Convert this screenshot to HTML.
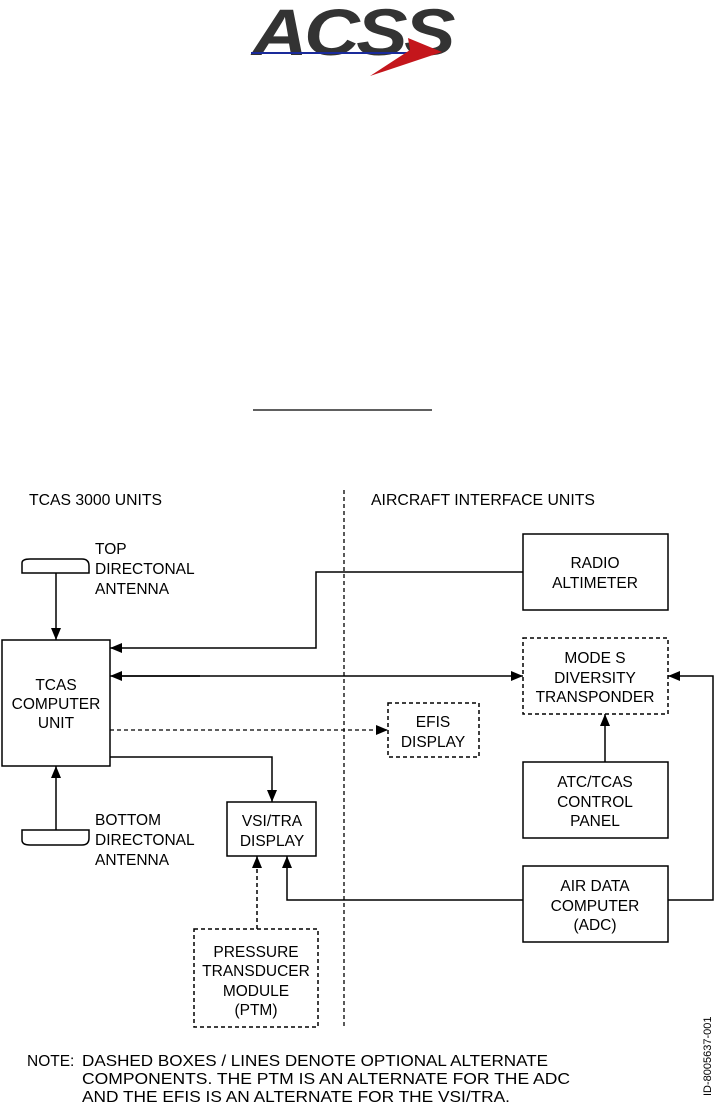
<!DOCTYPE html>
<html><head><meta charset="utf-8"><style>
html,body{margin:0;padding:0;background:#fff;}
svg{display:block;}
text{font-family:"Liberation Sans",sans-serif;font-size:15.5px;fill:#000;}
</style></head><body>
<svg width="714" height="1110" viewBox="0 0 714 1110" xmlns="http://www.w3.org/2000/svg">
<defs>
<marker id="ah" viewBox="0 0 12 10" refX="12" refY="5" markerWidth="12" markerHeight="10" markerUnits="userSpaceOnUse" orient="auto">
<path d="M0,0 L12,5 L0,10 z" fill="#000"/></marker>
</defs>
<g>
<text x="252" y="55" style="font-size:66px;font-weight:bold;font-style:italic;fill:#333;letter-spacing:-3px" textLength="200" lengthAdjust="spacingAndGlyphs">ACSS</text>
<line x1="251" y1="53" x2="408" y2="53" stroke="#1a2a9a" stroke-width="2"/>
<path d="M408,38 L442,52 L370,76 L410,50 Z" fill="#c4161c"/>
</g>
<line x1="253" y1="410" x2="432" y2="410" stroke="#000" stroke-width="1.2"/>
<text x="29" y="505" textLength="133" lengthAdjust="spacingAndGlyphs">TCAS 3000 UNITS</text>
<text x="371" y="505" textLength="224" lengthAdjust="spacingAndGlyphs">AIRCRAFT INTERFACE UNITS</text>
<line x1="344" y1="490" x2="344" y2="1028" stroke="#000" stroke-width="1.3" stroke-dasharray="4,3"/>
<path d="M22,573 L22,563 Q22,559 30,559 L82,559 Q89,559 89,566 L89,573 Z" fill="none" stroke="#000" stroke-width="1.5"/>
<text x="95" y="554">TOP</text><text x="95" y="574">DIRECTONAL</text><text x="95" y="594">ANTENNA</text>
<line x1="56" y1="573" x2="56" y2="640" stroke="#000" stroke-width="1.5" marker-end="url(#ah)"/>
<path d="M22,830 L89,830 L89,838 Q89,845 82,845 L30,845 Q22,845 22,840 Z" fill="none" stroke="#000" stroke-width="1.5"/>
<text x="95" y="825">BOTTOM</text><text x="95" y="845">DIRECTONAL</text><text x="95" y="865">ANTENNA</text>
<line x1="56" y1="830" x2="56" y2="766" stroke="#000" stroke-width="1.5" marker-end="url(#ah)"/>
<rect x="2" y="640" width="108" height="126" fill="none" stroke="#000" stroke-width="1.5"/>
<text x="56" y="690" text-anchor="middle">TCAS</text><text x="56" y="709" text-anchor="middle">COMPUTER</text><text x="56" y="728" text-anchor="middle">UNIT</text>
<rect x="523" y="534" width="145" height="76" fill="none" stroke="#000" stroke-width="1.5"/>
<text x="595" y="568" text-anchor="middle">RADIO</text><text x="595" y="588" text-anchor="middle">ALTIMETER</text>
<polyline points="523,572 316,572 316,648 110,648" fill="none" stroke="#000" stroke-width="1.5" marker-end="url(#ah)"/>
<rect x="523" y="638" width="145" height="76" fill="none" stroke="#000" stroke-width="1.5" stroke-dasharray="4,3"/>
<text x="595" y="663" text-anchor="middle">MODE S</text><text x="595" y="683" text-anchor="middle">DIVERSITY</text><text x="595" y="702" text-anchor="middle">TRANSPONDER</text>
<line x1="122" y1="676" x2="523" y2="676" stroke="#000" stroke-width="1.5" marker-end="url(#ah)"/>
<line x1="200" y1="676" x2="110" y2="676" stroke="#000" stroke-width="1.5" marker-end="url(#ah)"/>
<rect x="388" y="703" width="91" height="54" fill="none" stroke="#000" stroke-width="1.5" stroke-dasharray="4,3"/>
<text x="433" y="727" text-anchor="middle">EFIS</text><text x="433" y="747" text-anchor="middle">DISPLAY</text>
<line x1="110" y1="730" x2="388" y2="730" stroke="#000" stroke-width="1.3" stroke-dasharray="4,3" marker-end="url(#ah)"/>
<rect x="227" y="802" width="89" height="54" fill="none" stroke="#000" stroke-width="1.5"/>
<text x="272" y="826" text-anchor="middle">VSI/TRA</text><text x="272" y="846" text-anchor="middle">DISPLAY</text>
<polyline points="110,757 272,757 272,802" fill="none" stroke="#000" stroke-width="1.5" marker-end="url(#ah)"/>
<rect x="523" y="762" width="145" height="76" fill="none" stroke="#000" stroke-width="1.5"/>
<text x="595" y="787" text-anchor="middle">ATC/TCAS</text><text x="595" y="807" text-anchor="middle">CONTROL</text><text x="595" y="826" text-anchor="middle">PANEL</text>
<line x1="605" y1="762" x2="605" y2="714" stroke="#000" stroke-width="1.5" marker-end="url(#ah)"/>
<rect x="523" y="866" width="145" height="76" fill="none" stroke="#000" stroke-width="1.5"/>
<text x="595" y="891" text-anchor="middle">AIR DATA</text><text x="595" y="911" text-anchor="middle">COMPUTER</text><text x="595" y="930" text-anchor="middle">(ADC)</text>
<polyline points="668,900 713,900 713,676 668,676" fill="none" stroke="#000" stroke-width="1.5" marker-end="url(#ah)"/>
<polyline points="523,900 287,900 287,856" fill="none" stroke="#000" stroke-width="1.5" marker-end="url(#ah)"/>
<rect x="194" y="929" width="124" height="98" fill="none" stroke="#000" stroke-width="1.5" stroke-dasharray="4,3"/>
<text x="256" y="957" text-anchor="middle">PRESSURE</text><text x="256" y="976" text-anchor="middle">TRANSDUCER</text><text x="256" y="996" text-anchor="middle">MODULE</text><text x="256" y="1015" text-anchor="middle">(PTM)</text>
<line x1="257" y1="929" x2="257" y2="856" stroke="#000" stroke-width="1.5" stroke-dasharray="4,3" marker-end="url(#ah)"/>
<text x="27" y="1066">NOTE:</text>
<text x="82" y="1066" textLength="466" lengthAdjust="spacingAndGlyphs">DASHED BOXES / LINES DENOTE OPTIONAL ALTERNATE</text>
<text x="82" y="1084" textLength="488" lengthAdjust="spacingAndGlyphs">COMPONENTS.  THE PTM IS AN ALTERNATE FOR THE ADC</text>
<text x="82" y="1102" textLength="428" lengthAdjust="spacingAndGlyphs">AND THE EFIS IS AN ALTERNATE FOR THE VSI/TRA.</text>
<text transform="translate(711,1096) rotate(-90)" style="font-size:11px">ID-8005637-001</text>
</svg>
</body></html>
